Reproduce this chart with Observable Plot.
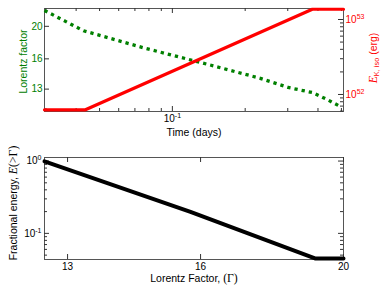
<!DOCTYPE html>
<html><head><meta charset="utf-8">
<script src="https://cdn.jsdelivr.net/npm/d3@7"></script>
<script src="https://cdn.jsdelivr.net/npm/@observablehq/plot@0.6"></script>
<style>
body{margin:0;background:#fff;}
#wrap{position:relative;width:390px;height:294px;}
#wrap svg{position:absolute;left:0;overflow:visible;}
</style></head><body><div id="wrap"></div>
<script>
// ---- Top panel data ----
const timeDays   = [0.0296, 0.0429, 0.0773, 0.1268, 0.231, 0.301, 0.379, 0.437, 0.499];
const lorentz    = [22.3, 19.4, 17.2, 15.7, 14.0, 13.15, 12.7, 12.1, 11.5];
const redTime    = [0.0296, 0.0437, 0.379, 0.51];
const energyErg  = [6.25e51, 6.25e51, 1.37e53, 1.37e53];
// ---- Bottom panel data ----
const gammaVals  = [12.54, 15.75, 19.15, 20];
const fracEnergy = [0.99, 0.198, 0.0448, 0.0448];
// ---- Ticks ----
const timeMajor   = [0.1];
const timeMinor   = [0.03,0.04,0.05,0.06,0.07,0.08,0.09,0.2,0.3,0.4,0.5];
const lorentzTicks = [13, 16, 20];
const ergMajor    = [1e52, 1e53];
const ergMinor    = [6e51,7e51,8e51,9e51,2e52,3e52,4e52,5e52,6e52,7e52,8e52,9e52];
const gammaTicks  = [13, 16, 20];
const fracMajor   = [0.1, 1];
const fracMinor   = [0.05,0.06,0.07,0.08,0.09,0.2,0.3,0.4,0.5,0.6,0.7,0.8,0.9];

const FONT = "'Liberation Sans', Arial, sans-serif";
const TC = "#333";
const pow10 = d => "10^{" + Math.round(Math.log10(d)) + "}";

function ticksX(vals, len, fh){
  return [Plot.tickX(vals,{x:d=>d, insetTop:fh-len, stroke:TC}),
          Plot.tickX(vals,{x:d=>d, insetBottom:fh-len, stroke:TC})];
}
function ticksY(vals, len, fw, side){
  const out=[];
  if(side!=="right") out.push(Plot.tickY(vals,{y:d=>d, insetRight:fw-len, stroke:TC}));
  if(side!=="left") out.push(Plot.tickY(vals,{y:d=>d, insetLeft:fw-len, stroke:TC}));
  return out;
}
function rich(svg){
  svg.querySelectorAll("text").forEach(t=>{
    const s=t.textContent;
    if(!/[\^_*~]\{/.test(s)) return;
    t.textContent="";
    const parts=s.split(/([\^_*~]\{[^}]*\})/).filter(p=>p);
    let shift=0;
    for(const p of parts){
      const ts=document.createElementNS("http://www.w3.org/2000/svg","tspan");
      let dy=0;
      const body = /^[\^_*~]\{/.test(p) ? p.slice(2,-1) : p;
      ts.textContent=body;
      if(p.startsWith("^{")){ts.style.fontSize="70%"; dy=-4;}
      else if(p.startsWith("_{")){ts.style.fontSize="70%"; dy=2.5;}
      else if(p.startsWith("*{")){ts.style.fontFamily="'Liberation Serif','DejaVu Serif',serif"; ts.style.fontStyle="italic"; ts.style.fontSize="112%";}
      else if(p.startsWith("~{")){ts.style.fontFamily="'Liberation Serif','DejaVu Serif',serif"; ts.style.fontSize="112%";}
      const d=dy-shift; if(d) ts.setAttribute("dy", d);
      shift=dy;
      t.appendChild(ts);
    }
  });
  return svg;
}

const wrap=document.getElementById("wrap");
const topDims={width:390,height:145,marginTop:8,marginBottom:34,marginLeft:44,marginRight:47};
const fwTop=390-44-47, fhTop=145-8-34;
const xTop={type:"log", domain:[0.0296,0.51], axis:null};
const style={fontFamily:FONT, fontSize:"10px", background:"transparent", overflow:"visible"};

const greenData = timeDays.map((t,i)=>({t, L:lorentz[i]}));
const redData = redTime.map((t,i)=>({t, E:energyErg[i]}));
const botData = gammaVals.map((g,i)=>({g, f:fracEnergy[i]}));

const A = Plot.plot({
  ...topDims, style,
  x:xTop,
  y:{type:"log", domain:[11.15,22.6], axis:null},
  marks:[
    Plot.frame({stroke:"#555"}),
    ...ticksX(timeMajor,5,fhTop), ...ticksX(timeMinor,3,fhTop),
    ...ticksY(lorentzTicks,5,fwTop,"left"),
    Plot.axisX(timeMajor,{tickSize:0, tickPadding:3, tickFormat:pow10, fill:"black", label:null}),
    Plot.axisY(lorentzTicks,{tickSize:0, tickPadding:2, tickFormat:d=>String(d), fill:"green", label:null}),
    Plot.line(greenData,{x:"t", y:"L", stroke:"green", strokeWidth:3.3, strokeDasharray:"3.3,4", strokeLinecap:"butt"}),
    Plot.text(["Lorentz factor"],{frameAnchor:"left", textAnchor:"middle", lineAnchor:"middle", dx:-21, dy:1.5, rotate:-90, fill:"green", fontSize:10.5}),
    Plot.text(["Time (days)"],{frameAnchor:"bottom", textAnchor:"middle", lineAnchor:"middle", dy:21, fill:"black", fontSize:10.5})
  ]
});
A.style.top="0px";
wrap.appendChild(rich(A));

const B = Plot.plot({
  ...topDims, style,
  x:xTop,
  y:{type:"log", domain:[5.93e51,1.402e53], axis:null},
  marks:[
    ...ticksY(ergMajor,5,fwTop,"right"), ...ticksY(ergMinor,3,fwTop,"right"),
    Plot.axisY(ergMajor,{anchor:"right", tickSize:0, tickPadding:2, tickFormat:pow10, fill:"red", label:null}),
    Plot.line(redData,{x:"t", y:"E", stroke:"red", strokeWidth:3.2}),
    Plot.text(["*{E}_{K, iso} (erg)"],{frameAnchor:"right", textAnchor:"middle", lineAnchor:"middle", dx:30, dy:-2, rotate:-90, fill:"red", fontSize:10.5})
  ]
});
B.style.top="0px";
wrap.appendChild(rich(B));

const fwBot=390-44-47, fhBot=149-12-35;
const C = Plot.plot({
  width:390, height:149, marginTop:12, marginBottom:35, marginLeft:44, marginRight:47, style,
  x:{type:"log", domain:[12.54,20], axis:null},
  y:{type:"log", domain:[0.0435,1.12], axis:null},
  marks:[
    Plot.frame({stroke:"#555"}),
    ...ticksX(gammaTicks,5,fhBot),
    ...ticksY(fracMajor,5,fwBot,"both"), ...ticksY(fracMinor,3,fwBot,"both"),
    Plot.axisX(gammaTicks,{tickSize:0, tickPadding:3, tickFormat:d=>String(d), fill:"black", label:null}),
    Plot.axisY(fracMajor,{tickSize:0, tickPadding:3, tickFormat:pow10, fill:"black", label:null}),
    Plot.line(botData,{x:"g", y:"f", stroke:"black", strokeWidth:4}),
    Plot.text(["Fractional energy, *{E}~{(>Γ)}"],{frameAnchor:"left", textAnchor:"middle", lineAnchor:"middle", dx:-31, dy:-5.5, rotate:-90, fill:"black", fontSize:10.5}),
    Plot.text(["Lorentz Factor, ~{(Γ)}"],{frameAnchor:"bottom", textAnchor:"middle", lineAnchor:"middle", dy:19, fill:"black", fontSize:10.5})
  ]
});
C.style.top="145px";
wrap.appendChild(rich(C));
</script></body></html>
